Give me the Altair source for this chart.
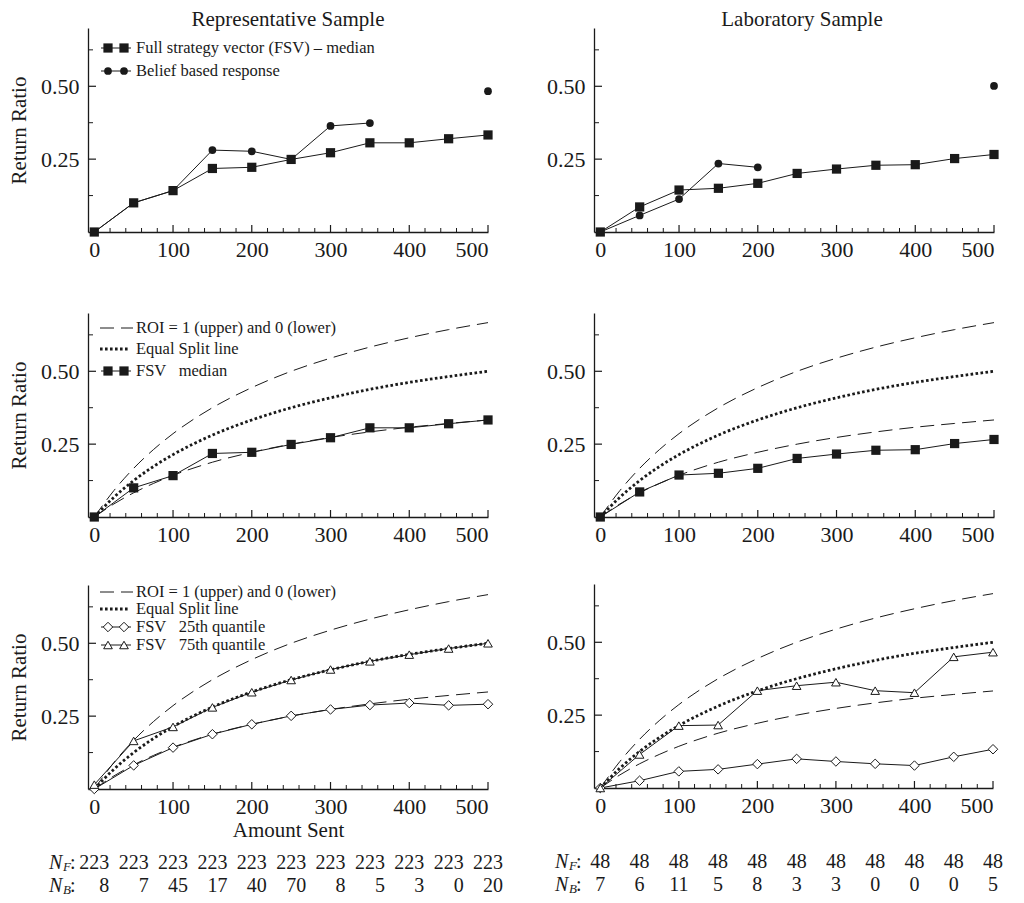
import altair as alt
import pandas as pd

# ---------------- data ----------------
amount = [0, 50, 100, 150, 200, 250, 300, 350, 400, 450, 500]

rep_fsv_median = [0.0, 0.100, 0.142, 0.218, 0.222, 0.249, 0.272, 0.306, 0.306, 0.320, 0.333]
rep_belief = [0.0, 0.100, 0.142, 0.281, 0.277, 0.249, 0.364, 0.374, None, None, 0.483]
lab_fsv_median = [0.0, 0.086, 0.144, 0.150, 0.167, 0.201, 0.216, 0.229, 0.231, 0.252, 0.266]
lab_belief = [0.0, 0.057, 0.113, 0.235, 0.222, None, None, None, None, None, 0.501]

rep_q25 = [0.0, 0.081, 0.142, 0.188, 0.222, 0.251, 0.273, 0.288, 0.295, 0.287, 0.291]
rep_q75 = [0.015, 0.165, 0.213, 0.280, 0.332, 0.374, 0.410, 0.438, 0.461, 0.482, 0.500]
lab_q25 = [0.0, 0.025, 0.057, 0.064, 0.082, 0.100, 0.091, 0.083, 0.077, 0.107, 0.133]
lab_q75 = [0.0, 0.115, 0.214, 0.216, 0.334, 0.351, 0.363, 0.334, 0.327, 0.450, 0.466]

curve_x = [0, 25, 50, 75, 100, 150, 200, 250, 300, 350, 400, 450, 500]
roi_upper = [0.0, 0.091, 0.167, 0.231, 0.286, 0.375, 0.444, 0.500, 0.545, 0.583, 0.615, 0.643, 0.667]
equal_split = [0.0, 0.068, 0.125, 0.173, 0.214, 0.281, 0.333, 0.375, 0.409, 0.438, 0.462, 0.482, 0.500]
roi_lower = [0.0, 0.045, 0.083, 0.115, 0.143, 0.188, 0.222, 0.250, 0.273, 0.292, 0.308, 0.321, 0.333]

n_f_rep = [223, 223, 223, 223, 223, 223, 223, 223, 223, 223, 223]
n_b_rep = [8, 7, 45, 17, 40, 70, 8, 5, 3, 0, 20]
n_f_lab = [48, 48, 48, 48, 48, 48, 48, 48, 48, 48, 48]
n_b_lab = [7, 6, 11, 5, 8, 3, 3, 0, 0, 0, 5]

x_minor_ticks = [20, 40, 60, 80, 120, 140, 160, 180, 220, 240, 260, 280,
                 320, 340, 360, 380, 420, 440, 460, 480]
x_major_ticks = [100, 200, 300, 400, 500]
y_minor_ticks = [0.125, 0.375, 0.625]
y_major_ticks = [0.25, 0.5]

# ---------------- styling ----------------
FONT = "Liberation Serif"
INK = "#1a1a1a"
W, H = 400, 204
XD = [-8, 500]
YD = [0, 0.7]
FS = 22      # tick labels
TFS = 21     # titles
NFS = 20     # N rows
LFS = 16.5   # legend


def xenc(title=None):
    return alt.X("x:Q", scale=alt.Scale(domain=XD, nice=False, zero=False),
                 axis=alt.Axis(values=[0, 100, 200, 300, 400, 500], ticks=False,
                               labelPadding=7, labelFontSize=FS, title=title,
                               titleFontSize=TFS, titleFontWeight="normal",
                               titlePadding=2, domainWidth=1.3, grid=False))


def yenc(title=None):
    return alt.Y("y:Q", scale=alt.Scale(domain=YD, nice=False, zero=False),
                 axis=alt.Axis(values=[0.25, 0.5], format=".2f", ticks=False,
                               labelPadding=9, labelFontSize=FS, title=title,
                               titleFontSize=TFS, titleFontWeight="normal",
                               titlePadding=11, domainWidth=1.3, grid=False))


def frame(ytitle, xtitle=None):
    base = alt.Chart(pd.DataFrame({"x": [0], "y": [0]})).mark_point(opacity=0).encode(
        x=xenc(xtitle), y=yenc(ytitle))
    xs_min = alt.Chart(pd.DataFrame({"x": x_minor_ticks})).mark_rule(color=INK, strokeWidth=1).encode(
        x=xenc(xtitle), y=alt.value(H), y2=alt.value(H - 4))
    xs_maj = alt.Chart(pd.DataFrame({"x": x_major_ticks})).mark_rule(color=INK, strokeWidth=1.2).encode(
        x=xenc(xtitle), y=alt.value(H), y2=alt.value(H - 7))
    ys_min = alt.Chart(pd.DataFrame({"y": y_minor_ticks})).mark_rule(color=INK, strokeWidth=1).encode(
        y=yenc(ytitle), x=alt.value(0), x2=alt.value(5))
    ys_maj = alt.Chart(pd.DataFrame({"y": y_major_ticks})).mark_rule(color=INK, strokeWidth=1.2).encode(
        y=yenc(ytitle), x=alt.value(0), x2=alt.value(8))
    return [base, xs_min, xs_maj, ys_min, ys_maj]


def series_df(xs, ys):
    rows, seg = [], 0
    for xv, yv in zip(xs, ys):
        if yv is None:
            seg += 1
            continue
        rows.append({"x": xv, "y": yv, "seg": seg})
    return pd.DataFrame(rows)


def series(xs, ys, shape, size, filled, ytitle, xtitle=None):
    df = series_df(xs, ys)
    line = alt.Chart(df).mark_line(color=INK, strokeWidth=1).encode(
        x=xenc(xtitle), y=yenc(ytitle), detail="seg:N")
    if filled:
        pts = alt.Chart(df).mark_point(shape=shape, size=size, filled=True, color=INK, opacity=1).encode(
            x=xenc(xtitle), y=yenc(ytitle))
    else:
        pts = alt.Chart(df).mark_point(shape=shape, size=size, filled=True, fill="white",
                                       stroke=INK, strokeWidth=1, opacity=1).encode(
            x=xenc(xtitle), y=yenc(ytitle))
    return [line, pts]


def curves(ytitle, xtitle=None):
    out = []
    for vals, dash, sw in [(roi_upper, [14, 7], 1), (roi_lower, [14, 7], 1), (equal_split, [2.6, 2.4], 2.8)]:
        df = pd.DataFrame({"x": curve_x, "y": vals})
        out.append(alt.Chart(df).mark_line(color=INK, strokeWidth=sw, strokeDash=dash,
                                           interpolate="monotone").encode(
            x=xenc(xtitle), y=yenc(ytitle)))
    return out


ONE = pd.DataFrame({"k": [0]})


def leg_text(label, x, y):
    return alt.Chart(pd.DataFrame({"t": [label]})).mark_text(
        align="left", baseline="middle", font=FONT, fontSize=LFS, color=INK).encode(
        x=alt.value(x), y=alt.value(y), text="t:N")


def leg_line(x1, x2, y, dash=None, sw=1):
    kw = {"color": INK, "strokeWidth": sw}
    if dash:
        kw["strokeDash"] = dash
    return alt.Chart(ONE).mark_rule(**kw).encode(x=alt.value(x1), x2=alt.value(x2), y=alt.value(y))


def leg_marker(x, y, shape, size, filled):
    if filled:
        m = alt.Chart(ONE).mark_point(shape=shape, size=size, filled=True, color=INK, opacity=1)
    else:
        m = alt.Chart(ONE).mark_point(shape=shape, size=size, filled=True, fill="white",
                                      stroke=INK, strokeWidth=1, opacity=1)
    return m.encode(x=alt.value(x), y=alt.value(y))


def leg_pair(y, shape, size, filled):
    return [leg_line(13, 43, y), leg_marker(20, y, shape, size, filled), leg_marker(36, y, shape, size, filled)]


def n_rows(nf, nb, right_align_b, xtitle=None):
    df = pd.DataFrame({"x": amount, "nf": [str(v) for v in nf], "nb": [str(v) for v in nb]})
    layers = [
        alt.Chart(df).mark_text(baseline="middle", font=FONT, fontSize=NFS, color=INK).encode(
            x=xenc(xtitle), y=alt.value(H + 74), text="nf:N"),
    ]
    if right_align_b:
        layers.append(alt.Chart(df).mark_text(baseline="middle", align="right", dx=15, font=FONT,
                                              fontSize=NFS, color=INK).encode(
            x=xenc(xtitle), y=alt.value(H + 97), text="nb:N"))
    else:
        layers.append(alt.Chart(df).mark_text(baseline="middle", font=FONT, fontSize=NFS, color=INK).encode(
            x=xenc(xtitle), y=alt.value(H + 97), text="nb:N"))
    for sub, yy in [("F", H + 74), ("B", H + 97)]:
        layers.append(alt.Chart(pd.DataFrame({"t": ["N"]})).mark_text(
            align="left", baseline="middle", font=FONT, fontSize=NFS, fontStyle="italic", color=INK).encode(
            x=alt.value(-39), y=alt.value(yy), text="t:N"))
        layers.append(alt.Chart(pd.DataFrame({"t": [sub]})).mark_text(
            align="left", baseline="middle", font=FONT, fontSize=13, fontStyle="italic", color=INK).encode(
            x=alt.value(-25), y=alt.value(yy + 4), text="t:N"))
        layers.append(alt.Chart(pd.DataFrame({"t": [":"]})).mark_text(
            align="left", baseline="middle", font=FONT, fontSize=NFS, color=INK).encode(
            x=alt.value(-18), y=alt.value(yy), text="t:N"))
    return layers


RR = "Return Ratio"

# ---------------- row 1 ----------------
p11 = alt.layer(
    *frame(RR),
    *series(amount, rep_fsv_median, "square", 85, True, RR),
    *series(amount, rep_belief, "circle", 60, True, RR),
    *leg_pair(20, "square", 85, True), leg_text("Full strategy vector (FSV) \u2013 median", 48, 20),
    *leg_pair(43, "circle", 60, True), leg_text("Belief based response", 48, 43),
).properties(width=W, height=H,
             title=alt.TitleParams("Representative Sample", offset=-2))

p12 = alt.layer(
    *frame(None),
    *series(amount, lab_fsv_median, "square", 85, True, None),
    *series(amount, lab_belief, "circle", 60, True, None),
).properties(width=W, height=H,
             title=alt.TitleParams("Laboratory Sample", offset=-2, dx=8))

# ---------------- row 2 ----------------
p21 = alt.layer(
    *frame(RR),
    *curves(RR),
    *series(amount, rep_fsv_median, "square", 85, True, RR),
    leg_line(12, 45, 15, [14, 7]), leg_text("ROI = 1 (upper) and 0 (lower)", 48, 15),
    leg_line(12, 42, 36, [2.6, 2.4], 2.8), leg_text("Equal Split line", 48, 36),
    *leg_pair(58, "square", 85, True), leg_text("FSV\u00a0\u00a0\u00a0median", 48, 58),
).properties(width=W, height=H)

p22 = alt.layer(
    *frame(None),
    *curves(None),
    *series(amount, lab_fsv_median, "square", 85, True, None),
).properties(width=W, height=H)

# ---------------- row 3 ----------------
AS = "Amount Sent"
p31 = alt.layer(
    *frame(RR, AS),
    *curves(RR, AS),
    *series(amount, rep_q25, "diamond", 90, False, RR, AS),
    *series(amount, rep_q75, "triangle-up", 75, False, RR, AS),
    leg_line(12, 45, 7, [14, 7]), leg_text("ROI = 1 (upper) and 0 (lower)", 48, 7),
    leg_line(12, 42, 24, [2.6, 2.4], 2.8), leg_text("Equal Split line", 48, 24),
    *leg_pair(42, "diamond", 90, False), leg_text("FSV\u00a0\u00a0\u00a025th quantile", 48, 42),
    *leg_pair(60, "triangle-up", 75, False), leg_text("FSV\u00a0\u00a0\u00a075th quantile", 48, 60),
    *n_rows(n_f_rep, n_b_rep, True, AS),
).properties(width=W, height=H)

p32 = alt.layer(
    *frame(None),
    *curves(None),
    *series(amount, lab_q25, "diamond", 90, False, None),
    *series(amount, lab_q75, "triangle-up", 75, False, None),
    *n_rows(n_f_lab, n_b_lab, False),
).properties(width=W - 1, height=H)

col_left = alt.vconcat(p11, alt.vconcat(p21, p31, spacing=39), spacing=53)
col_right = alt.vconcat(p12, alt.vconcat(p22, p32, spacing=39), spacing=53)

chart = alt.hconcat(col_left, col_right, spacing=43).properties(
    padding={"top": 1, "left": 0, "right": 0, "bottom": 0}, background="white"
).configure_view(stroke=None).configure_axis(
    labelFont=FONT, titleFont=FONT, labelColor=INK, titleColor=INK, domainColor=INK
).configure_title(font=FONT, fontSize=TFS, fontWeight="normal", color=INK, anchor="middle")

chart.save("out.html", embed_options={"renderer": "svg", "actions": False})
